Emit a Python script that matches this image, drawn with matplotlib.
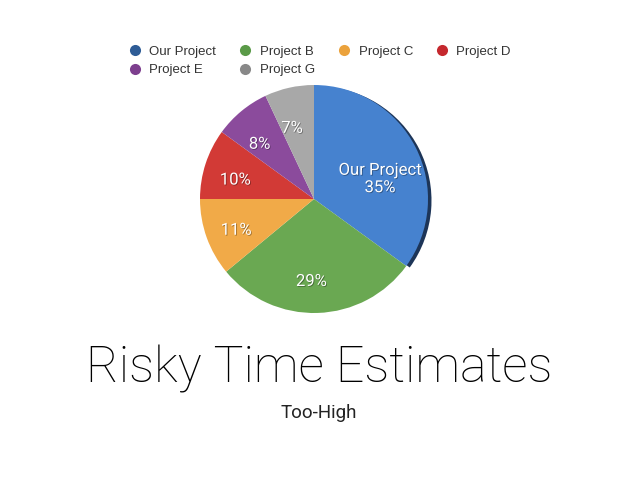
import matplotlib
matplotlib.use("Agg")
import matplotlib.pyplot as plt
import matplotlib.patheffects as pe
from matplotlib.lines import Line2D

categories = ["Our Project", "Project B", "Project C", "Project D", "Project E", "Project G"]
values = [35, 29, 11, 10, 8, 7]
slice_colors = ["#4682cf", "#6aa852", "#f1aa48", "#d23a36", "#8b4b9c", "#a8a8a8"]
legend_colors = ["#2e5c96", "#5a9a48", "#eba23c", "#c5282e", "#7d3f8e", "#888888"]
title = "Risky Time Estimates"
subtitle = "Too-High"

W, H = 638, 479
fig = plt.figure(figsize=(W / 100, H / 100), dpi=100)
fig.patch.set_facecolor("white")
ax = fig.add_axes([0, 0, 1, 1])

cx, cy, r = 314, H - 199, 114

# shadow under the first slice
ax.pie([values[0], sum(values) - values[0]], colors=["#1d3558", "none"],
       startangle=90, counterclock=False, center=(cx + 3.5, cy - 1.5), radius=r,
       wedgeprops=dict(linewidth=0), frame=True)

wedges, texts, autotexts = ax.pie(
    values, colors=slice_colors, startangle=90, counterclock=False,
    center=(cx, cy), radius=r, autopct=lambda p: f"{p:.0f}%", pctdistance=0.68,
    wedgeprops=dict(linewidth=0), frame=True,
    textprops=dict(color="white", fontsize=12, family="Roboto"))
autotexts[0].set_text(f"{categories[0]}\n{values[0]}%")
autotexts[0].set_linespacing(1.2)
autotexts[0].set_position((cx + 66, cy + 20))
for t in autotexts[1:]:
    x, y = t.get_position()
    t.set_position((x - 5, y - 5))
for t in autotexts:
    t.set_path_effects([pe.withSimplePatchShadow(offset=(0.6, -0.6), shadow_rgbFace="black", alpha=0.35)])

ax.set_xlim(0, W)
ax.set_ylim(0, H)
ax.set_aspect("equal")
ax.axis("off")

# legend (order to fill 4 columns row-wise)
order = [0, 4, 1, 5, 2, 3]
handles = [Line2D([], [], marker="o", linestyle="none", markersize=8,
                  markerfacecolor=legend_colors[i], markeredgewidth=0) for i in order]
labels = [categories[i] for i in order]
fig.legend(handles, labels, ncol=4, loc="center", bbox_to_anchor=(0.5, 1 - 61 / H),
           frameon=False, prop=dict(family="Liberation Sans", size=9.5),
           handletextpad=0.5, columnspacing=1.6, labelspacing=0.45, handlelength=1.2,
           labelcolor="#333333")

fig.text(0.5, 1 - 369 / H, title, ha="center", va="center", fontsize=36,
         family="Roboto", fontweight="light", color="black")
fig.text(0.5, 1 - 413 / H, subtitle, ha="center", va="center", fontsize=13.5,
         family="Roboto", fontweight="normal", color="#222222")

fig.savefig("out.png", dpi=100, facecolor="white")
